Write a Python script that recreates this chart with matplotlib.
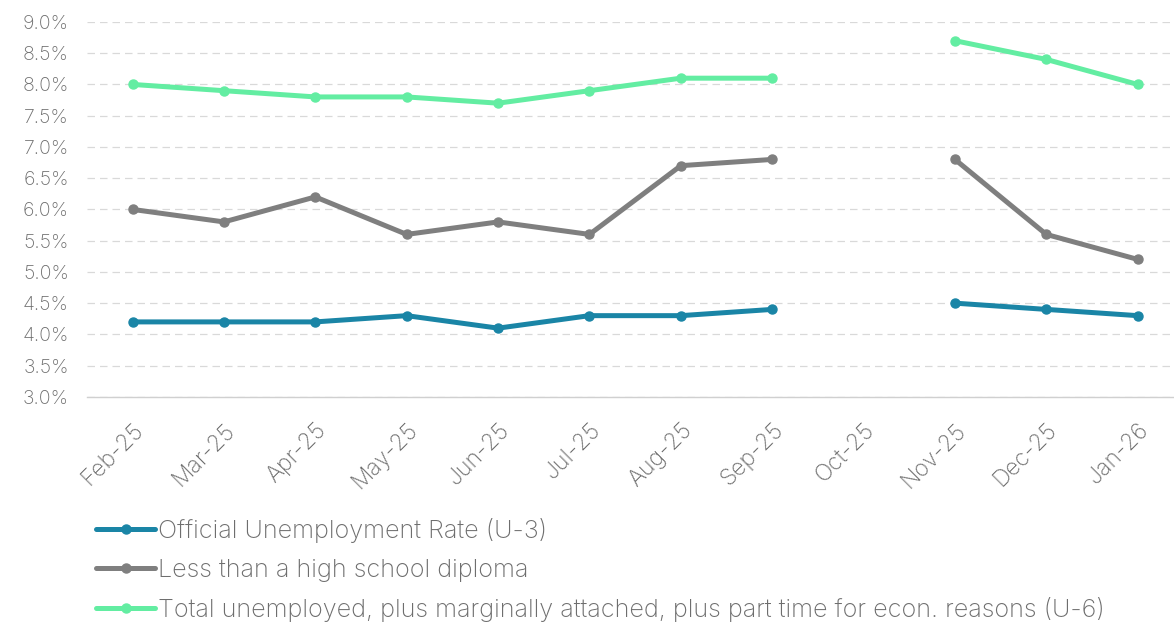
import matplotlib

matplotlib.use("Agg")
import matplotlib.pyplot as plt
import numpy as np
from matplotlib.ticker import FuncFormatter, MultipleLocator

months = ["Feb-25", "Mar-25", "Apr-25", "May-25", "Jun-25", "Jul-25",
          "Aug-25", "Sep-25", "Oct-25", "Nov-25", "Dec-25", "Jan-26"]
u3 = [4.2, 4.2, 4.2, 4.3, 4.1, 4.3, 4.3, 4.4, np.nan, 4.5, 4.4, 4.3]
less_hs = [6.0, 5.8, 6.2, 5.6, 5.8, 5.6, 6.7, 6.8, np.nan, 6.8, 5.6, 5.2]
u6 = [8.0, 7.9, 7.8, 7.8, 7.7, 7.9, 8.1, 8.1, np.nan, 8.7, 8.4, 8.0]

labels = [
    "Official Unemployment Rate (U-3)",
    "Less than a high school diploma",
    "Total unemployed, plus marginally attached, plus part time for econ. reasons (U-6)",
]
colors = ["#1A85A6", "#7F7F7F", "#63EDA2"]
_TEXT = "#6E6E6E"

plt.rcParams["font.family"] = ["Inter", "DejaVu Sans"]
plt.rcParams["font.weight"] = "light"

fig = plt.figure(figsize=(11.74, 6.27), dpi=100)
ax = fig.add_axes([0.074, 0.367, 0.934, 0.598])

x = np.arange(len(months))
for values, color, label in zip((u3, less_hs, u6), colors, labels):
    ax.plot(x, values, color=color, linewidth=3.6, marker="o",
            markersize=6.5, label=label, solid_capstyle="round")

ax.set_xlim(-0.5, len(months) - 0.5)
ax.set_ylim(3.0, 9.0)
ax.yaxis.set_major_locator(MultipleLocator(0.5))
ax.yaxis.set_major_formatter(FuncFormatter(lambda v, _: f"{v:.1f}%"))
ax.set_xticks(x)
ax.set_xticklabels(months, rotation=45, ha="right", rotation_mode="anchor")
ax.tick_params(axis="both", length=0, labelsize=14, colors=_TEXT)
ax.tick_params(axis="x", pad=16, labelsize=16.5)
ax.tick_params(axis="y", pad=13)

ax.grid(axis="y", color="#D9D9D9", linestyle=(0, (6, 4)), linewidth=0.9)
ax.set_axisbelow(True)
for side in ("top", "right", "left"):
    ax.spines[side].set_visible(False)
ax.spines["bottom"].set_color("#D0D0D0")
ax.spines["bottom"].set_linewidth(1.0)

leg = fig.legend(loc="upper left", bbox_to_anchor=(0.073, 0.19), frameon=False,
                 fontsize=18.2, handlelength=2.35, handletextpad=0.1,
                 labelspacing=0.62, borderaxespad=0)
for text in leg.get_texts():
    text.set_color(_TEXT)

fig.savefig("out.png", dpi=100)
